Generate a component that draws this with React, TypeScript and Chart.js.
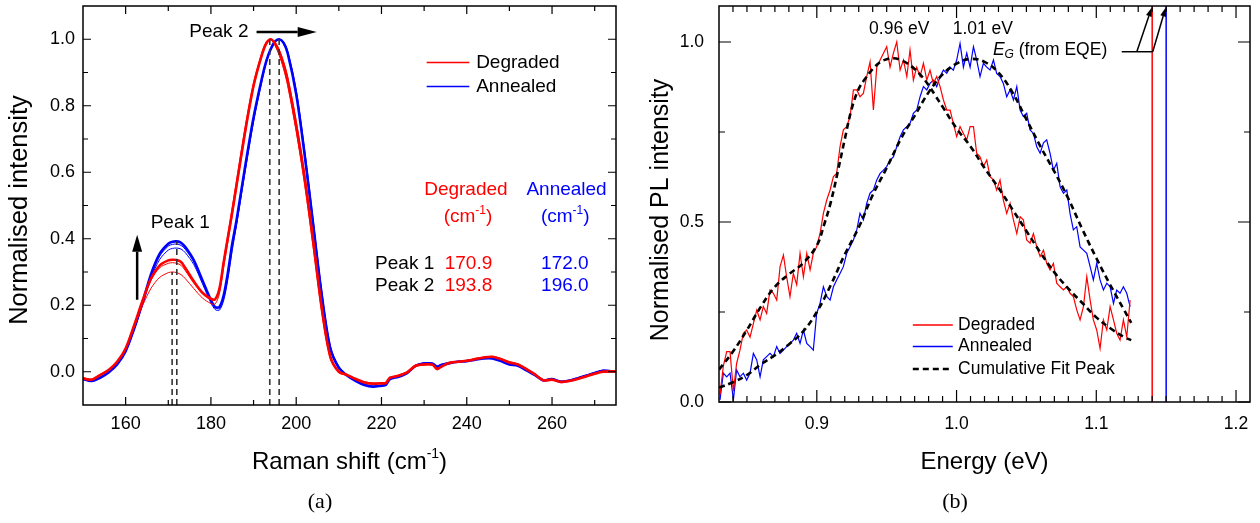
import { useEffect, useRef } from "react";
import { Chart, registerables } from "chart.js";

Chart.register(...registerables);

const SANS = '"Liberation Sans", Arial, Helvetica, sans-serif';
const SERIF = '"Liberation Serif", "DejaVu Serif", "Times New Roman", serif';
const RED = "#ff0000";
const BLUE = "#0000ff";

// ---------------- Panel (a): Raman ----------------
const ramanShift = [150,152,154,156,158,160,162,164,166,168,170,171,172,173,174,176,178,180,181,182,183,184,185,186,188,190,192,193,194,195,196,197,198,200,202,204,206,208,210,212,214,216,218,220,221,222,224,226,228,230,232,233,234,236,238,240,242,244,246,248,250,252,254,256,258,260,262,264,266,268,270,272,275];

const degradedMain = [
  -0.020, -0.024, -0.010, 0.005, 0.030,
  0.070, 0.140, 0.215, 0.282, 0.320,
  0.335, 0.337, 0.336, 0.330, 0.312,
  0.272, 0.238, 0.220, 0.218, 0.250,
  0.330, 0.405, 0.480, 0.560, 0.720,
  0.860, 0.955, 0.988, 1.000, 0.988,
  0.962, 0.925, 0.875, 0.740, 0.580,
  0.390, 0.190, 0.045, 0.000, -0.010,
  -0.022, -0.032, -0.036, -0.035, -0.034,
  -0.018, -0.012, -0.002, 0.018, 0.022,
  0.021, 0.008, 0.015, 0.027, 0.030,
  0.033, 0.038, 0.043, 0.045, 0.038,
  0.028, 0.022, 0.008, -0.008, -0.026,
  -0.024, -0.031, -0.028, -0.022, -0.014,
  -0.006, 0.000, 0.001,
];
const degradedB = [
  -0.018, -0.022, -0.008, 0.007, 0.032,
  0.072, 0.140, 0.212, 0.276, 0.313,
  0.326, 0.328, 0.326, 0.320, 0.304,
  0.266, 0.234, 0.216, 0.216, 0.252,
  0.335, 0.415, 0.495, 0.575, 0.735,
  0.870, 0.962, 0.992, 1.000, 0.982,
  0.952, 0.912, 0.860, 0.722, 0.560,
  0.372, 0.178, 0.040, -0.002, -0.012,
  -0.024, -0.030, -0.034, -0.033, -0.032,
  -0.020, -0.010, 0.000, 0.016, 0.020,
  0.020, 0.010, 0.016, 0.025, 0.031,
  0.034, 0.040, 0.044, 0.046, 0.040,
  0.030, 0.024, 0.010, -0.006, -0.024,
  -0.022, -0.029, -0.027, -0.020, -0.012,
  -0.004, 0.002, 0.003,
];
const degradedC = [
  -0.019, -0.023, -0.009, 0.006, 0.031,
  0.070, 0.135, 0.200, 0.252, 0.284,
  0.298, 0.300, 0.298, 0.292, 0.280,
  0.250, 0.222, 0.205, 0.204, 0.235,
  0.315, 0.392, 0.470, 0.552, 0.712,
  0.855, 0.952, 0.986, 1.000, 0.992,
  0.970, 0.935, 0.888, 0.755, 0.595,
  0.405, 0.200, 0.050, 0.002, -0.009,
  -0.021, -0.031, -0.035, -0.034, -0.033,
  -0.017, -0.011, -0.001, 0.019, 0.023,
  0.022, 0.009, 0.016, 0.028, 0.031,
  0.034, 0.039, 0.044, 0.046, 0.039,
  0.029, 0.023, 0.009, -0.007, -0.025,
  -0.023, -0.030, -0.027, -0.021, -0.013,
  -0.005, 0.001, 0.002,
];
const annealedMain = [
  -0.022, -0.028, -0.018, -0.002, 0.022,
  0.062, 0.130, 0.210, 0.295, 0.355,
  0.385, 0.391, 0.392, 0.388, 0.375,
  0.335, 0.275, 0.215, 0.195, 0.195,
  0.230, 0.300, 0.385, 0.455, 0.615,
  0.765, 0.885, 0.935, 0.970, 0.993,
  1.000, 0.990, 0.958, 0.835, 0.650,
  0.440, 0.230, 0.070, 0.012, -0.012,
  -0.028, -0.040, -0.045, -0.042, -0.040,
  -0.022, -0.015, -0.004, 0.018, 0.025,
  0.024, 0.015, 0.020, 0.026, 0.030,
  0.032, 0.036, 0.040, 0.040, 0.032,
  0.022, 0.018, 0.004, -0.010, -0.026,
  -0.022, -0.030, -0.027, -0.020, -0.012,
  -0.004, 0.003, 0.000,
];
const annealedB = [
  -0.021, -0.027, -0.017, -0.001, 0.023,
  0.063, 0.128, 0.206, 0.290, 0.348,
  0.378, 0.383, 0.384, 0.380, 0.368,
  0.330, 0.272, 0.212, 0.192, 0.190,
  0.222, 0.290, 0.375, 0.445, 0.605,
  0.758, 0.880, 0.932, 0.968, 0.992,
  1.000, 0.992, 0.962, 0.842, 0.658,
  0.448, 0.236, 0.074, 0.014, -0.011,
  -0.027, -0.039, -0.044, -0.041, -0.039,
  -0.021, -0.014, -0.003, 0.019, 0.026,
  0.025, 0.016, 0.021, 0.027, 0.031,
  0.033, 0.037, 0.041, 0.041, 0.033,
  0.023, 0.019, 0.005, -0.009, -0.025,
  -0.021, -0.029, -0.026, -0.019, -0.011,
  -0.003, 0.004, 0.001,
];
const annealedC = [
  -0.023, -0.029, -0.019, -0.003, 0.021,
  0.061, 0.126, 0.202, 0.283, 0.338,
  0.366, 0.371, 0.372, 0.369, 0.358,
  0.322, 0.265, 0.207, 0.187, 0.185,
  0.215, 0.280, 0.365, 0.440, 0.600,
  0.752, 0.876, 0.930, 0.967, 0.991,
  1.000, 0.993, 0.965, 0.848, 0.665,
  0.455, 0.242, 0.078, 0.016, -0.010,
  -0.026, -0.038, -0.043, -0.040, -0.038,
  -0.020, -0.013, -0.002, 0.020, 0.027,
  0.026, 0.017, 0.022, 0.028, 0.032,
  0.034, 0.038, 0.042, 0.042, 0.034,
  0.024, 0.020, 0.006, -0.008, -0.024,
  -0.020, -0.028, -0.025, -0.018, -0.010,
  -0.002, 0.005, 0.002,
];

const ramanXTicks = [160, 180, 200, 220, 240, 260];
const ramanXMinor = [170, 190, 210, 230, 250, 270];
const ramanYTicks = [0, 0.2, 0.4, 0.6, 0.8, 1.0];
const ramanYMinor = [0.1, 0.3, 0.5, 0.7, 0.9];

const peakNames = ["Peak 1", "Peak 2"];
const peakDegraded = [170.9, 193.8];
const peakAnnealed = [172.0, 196.0];
const markerX = [170.9, 172.0, 193.8, 196.0];
const markerTop = [0.30, 0.392, 1.0, 1.0];

// ---------------- Panel (b): PL ----------------
const plEnergy = [
  0.8307, 0.8331, 0.8355, 0.8379, 0.8403, 0.8426, 0.8450, 0.8474, 0.8498, 0.8522,
  0.8546, 0.8570, 0.8594, 0.8617, 0.8641, 0.8665, 0.8689, 0.8713, 0.8737, 0.8761,
  0.8784, 0.8808, 0.8832, 0.8856, 0.8880, 0.8904, 0.8928, 0.8952, 0.8975, 0.8999,
  0.9023, 0.9047, 0.9071, 0.9095, 0.9119, 0.9142, 0.9166, 0.9190, 0.9214, 0.9238,
  0.9262, 0.9286, 0.9309, 0.9333, 0.9357, 0.9381, 0.9405, 0.9429, 0.9453, 0.9477,
  0.9500, 0.9524, 0.9548, 0.9572, 0.9596, 0.9620, 0.9644, 0.9667, 0.9691, 0.9715,
  0.9739, 0.9763, 0.9787, 0.9810, 0.9834, 0.9858, 0.9882, 0.9906, 0.9930, 0.9954,
  0.9977, 1.0001, 1.0025, 1.0049, 1.0073, 1.0097, 1.0121, 1.0144, 1.0168, 1.0192,
  1.0216, 1.0240, 1.0264, 1.0287, 1.0311, 1.0335, 1.0359, 1.0383, 1.0407, 1.0431,
  1.0455, 1.0478, 1.0502, 1.0526, 1.0550, 1.0574, 1.0598, 1.0622, 1.0645, 1.0669,
  1.0693, 1.0717, 1.0741, 1.0765, 1.0789, 1.0812, 1.0836, 1.0860, 1.0884, 1.0908,
  1.0932, 1.0956, 1.0979, 1.1003, 1.1027, 1.1051, 1.1075, 1.1099, 1.1123, 1.1146,
  1.1170, 1.1194, 1.1218, 1.1242,
];
const plDegraded = [
  0.020, 0.100, 0.140, 0.140, 0.030, 0.107, 0.144, 0.190, 0.200, 0.180,
  0.218, 0.255, 0.228, 0.265, 0.246, 0.311, 0.302, 0.283, 0.376, 0.408,
  0.348, 0.293, 0.357, 0.326, 0.413, 0.348, 0.413, 0.367, 0.413, 0.431,
  0.468, 0.524, 0.561, 0.589, 0.626, 0.635, 0.709, 0.756, 0.765, 0.793,
  0.867, 0.867, 0.848, 0.857, 0.904, 0.945, 0.811, 0.930, 0.950, 0.969,
  0.987, 0.930, 0.969, 1.000, 0.922, 0.950, 0.904, 0.978, 0.894, 0.930,
  0.904, 0.941, 0.894, 0.922, 0.885, 0.904, 0.876, 0.839, 0.811, 0.811,
  0.774, 0.737, 0.765, 0.746, 0.728, 0.765, 0.765, 0.691, 0.681, 0.654,
  0.672, 0.626, 0.617, 0.589, 0.617, 0.561, 0.524, 0.552, 0.506, 0.468,
  0.515, 0.506, 0.450, 0.441, 0.468, 0.431, 0.404, 0.422, 0.385, 0.367,
  0.385, 0.330, 0.320, 0.311, 0.320, 0.302, 0.293, 0.256, 0.228, 0.265,
  0.348, 0.283, 0.228, 0.200, 0.149, 0.228, 0.200, 0.265, 0.228, 0.191,
  0.172, 0.228, 0.181, 0.283,
];
const plAnnealed = [
  0.006, 0.080, 0.070, 0.080, 0.006, 0.089, 0.070, 0.080, 0.061, 0.080,
  0.135, 0.117, 0.070, 0.117, 0.126, 0.135, 0.126, 0.154, 0.135, 0.144,
  0.154, 0.163, 0.172, 0.191, 0.163, 0.200, 0.163, 0.154, 0.144, 0.246,
  0.274, 0.320, 0.293, 0.283, 0.320, 0.339, 0.357, 0.376, 0.413, 0.431,
  0.450, 0.478, 0.524, 0.506, 0.552, 0.580, 0.589, 0.617, 0.635, 0.644,
  0.654, 0.672, 0.681, 0.709, 0.737, 0.756, 0.765, 0.774, 0.802, 0.811,
  0.848, 0.876, 0.867, 0.885, 0.894, 0.876, 0.904, 0.922, 0.913, 0.930,
  0.922, 0.950, 0.996, 0.930, 0.969, 0.930, 0.987, 0.950, 0.904, 0.941,
  0.930, 0.922, 0.950, 0.913, 0.904, 0.885, 0.848, 0.867, 0.839, 0.876,
  0.811, 0.793, 0.802, 0.756, 0.746, 0.709, 0.691, 0.720, 0.728, 0.691,
  0.644, 0.663, 0.598, 0.580, 0.589, 0.524, 0.478, 0.487, 0.431, 0.422,
  0.413, 0.376, 0.339, 0.385, 0.339, 0.311, 0.330, 0.320, 0.274, 0.311,
  0.302, 0.320, 0.302, 0.265,
];
const fitEnergyDegraded = [0.83,0.84,0.85,0.86,0.87,0.88,0.89,0.90,0.905,0.91,0.915,0.92,0.925,0.93,0.935,0.94,0.945,0.95,0.955,0.96,0.965,0.97,0.975,0.98,0.985,0.99,1.00,1.01,1.02,1.03,1.04,1.05,1.06,1.07,1.08,1.09,1.10,1.11,1.12,1.125];
const fitDegraded = [0.090,0.140,0.200,0.265,0.320,0.355,0.385,0.435,0.490,0.555,0.640,0.730,0.815,0.870,0.900,0.925,0.943,0.952,0.955,0.950,0.940,0.925,0.905,0.880,0.850,0.820,0.760,0.710,0.650,0.595,0.535,0.475,0.415,0.360,0.315,0.275,0.235,0.205,0.180,0.172];
const fitEnergyAnnealed = [0.83,0.84,0.85,0.86,0.87,0.88,0.89,0.90,0.91,0.92,0.93,0.94,0.95,0.96,0.97,0.98,0.99,1.00,1.01,1.02,1.03,1.04,1.05,1.06,1.07,1.08,1.09,1.10,1.11,1.12,1.125];
const fitAnnealed = [0.040,0.055,0.075,0.105,0.130,0.160,0.195,0.250,0.325,0.410,0.485,0.575,0.650,0.730,0.795,0.860,0.910,0.940,0.953,0.945,0.915,0.860,0.785,0.710,0.640,0.565,0.480,0.400,0.325,0.255,0.220];
const egEnergies = [1.14, 1.15];
const peakLabels = ["0.96 eV", "1.01 eV"];
const peakLabelEnergies = [0.959, 1.0188];

const plXTicks = [0.9, 1.0, 1.1, 1.2];
const plYTicks = [0, 0.5, 1.0];
const plYMinor = [0.25, 0.75];

// ---------------- helpers ----------------
type Part = { t: string; size: number; dy?: number; italic?: boolean };

function setFont(ctx: CanvasRenderingContext2D, size: number, italic = false, family = SANS) {
  ctx.font = `${italic ? "italic " : ""}${size}px ${family}`;
}

function rich(ctx: CanvasRenderingContext2D, parts: Part[], x: number, y: number, align: "left" | "center" | "right", color = "#000") {
  const widths = parts.map((p) => {
    setFont(ctx, p.size, p.italic);
    return ctx.measureText(p.t).width;
  });
  const total = widths.reduce((a, b) => a + b, 0);
  let cx = align === "center" ? x - total / 2 : align === "right" ? x - total : x;
  ctx.fillStyle = color;
  ctx.textAlign = "left";
  ctx.textBaseline = "middle";
  parts.forEach((p, i) => {
    setFont(ctx, p.size, p.italic);
    ctx.fillText(p.t, cx, y + (p.dy || 0));
    cx += widths[i];
  });
}

function label(ctx: CanvasRenderingContext2D, s: string, x: number, y: number, size: number, align: CanvasTextAlign = "left", color = "#000", family = SANS) {
  setFont(ctx, size, false, family);
  ctx.fillStyle = color;
  ctx.textAlign = align;
  ctx.textBaseline = "middle";
  ctx.fillText(s, x, y);
}

function arrow(ctx: CanvasRenderingContext2D, x1: number, y1: number, x2: number, y2: number, w: number, hl: number, hw: number) {
  const a = Math.atan2(y2 - y1, x2 - x1);
  const bx = x2 - hl * Math.cos(a);
  const by = y2 - hl * Math.sin(a);
  ctx.strokeStyle = "#000";
  ctx.fillStyle = "#000";
  ctx.lineWidth = w;
  ctx.beginPath();
  ctx.moveTo(x1, y1);
  ctx.lineTo(bx, by);
  ctx.stroke();
  ctx.beginPath();
  ctx.moveTo(x2, y2);
  ctx.lineTo(bx + (hw / 2) * Math.sin(a), by - (hw / 2) * Math.cos(a));
  ctx.lineTo(bx - (hw / 2) * Math.sin(a), by + (hw / 2) * Math.cos(a));
  ctx.closePath();
  ctx.fill();
}

type FrameSpec = {
  xMajor: number[]; xMinor: number[]; yMajor: number[]; yMinor: number[];
  majorLen: number; minorLen: number;
  draw: (chart: any, ctx: CanvasRenderingContext2D) => void;
};

function framePlugin(id: string, spec: FrameSpec) {
  return {
    id,
    afterDatasetsDraw(chart: any) {
      const { ctx, chartArea: a } = chart;
      const xs = chart.scales.x;
      const ys = chart.scales.y;
      ctx.save();
      ctx.strokeStyle = "#000";
      ctx.lineWidth = 1.2;
      const xt = (vals: number[], len: number) =>
        vals.forEach((v) => {
          const p = xs.getPixelForValue(v);
          ctx.beginPath();
          ctx.moveTo(p, a.bottom);
          ctx.lineTo(p, a.bottom - len);
          ctx.moveTo(p, a.top);
          ctx.lineTo(p, a.top + len);
          ctx.stroke();
        });
      const yt = (vals: number[], len: number) =>
        vals.forEach((v) => {
          const p = ys.getPixelForValue(v);
          ctx.beginPath();
          ctx.moveTo(a.left, p);
          ctx.lineTo(a.left + len, p);
          ctx.moveTo(a.right, p);
          ctx.lineTo(a.right - len, p);
          ctx.stroke();
        });
      xt(spec.xMajor, spec.majorLen);
      xt(spec.xMinor, spec.minorLen);
      yt(spec.yMajor, spec.majorLen);
      yt(spec.yMinor, spec.minorLen);
      ctx.lineWidth = 1.5;
      ctx.strokeRect(a.left, a.top, a.right - a.left, a.bottom - a.top);
      spec.draw(chart, ctx);
      ctx.restore();
    },
  };
}

const pts = (xs: number[], ys: number[]) => xs.map((x, i) => ({ x, y: ys[i] }));

const noPad = (s: any) => {
  s.paddingTop = 0;
  s.paddingBottom = 0;
  s.paddingLeft = 0;
  s.paddingRight = 0;
};

// ---------------- Raman chart ----------------
function drawRaman(chart: any, ctx: CanvasRenderingContext2D) {
  const X = (v: number) => chart.scales.x.getPixelForValue(v);
  const Y = (v: number) => chart.scales.y.getPixelForValue(v);
  const a = chart.chartArea;

  // legend
  const legendRows = [
    { t: "Degraded", c: RED, v: 0.930 },
    { t: "Annealed", c: BLUE, v: 0.858 },
  ];
  legendRows.forEach((r) => {
    ctx.strokeStyle = r.c;
    ctx.lineWidth = 1.5;
    ctx.beginPath();
    ctx.moveTo(X(230.6), Y(r.v));
    ctx.lineTo(X(240.6), Y(r.v));
    ctx.stroke();
    label(ctx, r.t, X(242.2), Y(r.v), 19);
  });

  // Peak 2 annotation
  label(ctx, "Peak 2", X(188.8), Y(1.022), 19, "right");
  arrow(ctx, X(190.7), Y(1.022), X(204.8), Y(1.022), 2.5, 19, 10);

  // Peak 1 annotation
  label(ctx, "Peak 1", X(172.8), Y(0.447), 19, "center");
  arrow(ctx, X(162.7), Y(0.2165), X(162.7), Y(0.412), 2.5, 17, 10);

  // table
  label(ctx, "Degraded", X(239.8), Y(0.547), 19, "center", RED);
  label(ctx, "Annealed", X(263.4), Y(0.547), 19, "center", BLUE);
  const cm = (c: string, x: number) =>
    rich(ctx, [{ t: "(cm", size: 19 }, { t: "-1", size: 12, dy: -6 }, { t: ")", size: 19 }], x, Y(0.467), "center", c);
  cm(RED, X(240.3));
  cm(BLUE, X(263.1));
  const rowsV = [0.324, 0.259];
  peakNames.forEach((n, i) => {
    label(ctx, n, X(218.5), Y(rowsV[i]), 19, "left");
    label(ctx, peakDegraded[i].toFixed(1), X(240.4), Y(rowsV[i]), 19, "center", RED);
    label(ctx, peakAnnealed[i].toFixed(1), X(263.0), Y(rowsV[i]), 19, "center", BLUE);
  });

  // axis titles
  rich(ctx, [{ t: "Raman shift (cm", size: 24 }, { t: "-1", size: 14, dy: -8 }, { t: ")", size: 24 }], (a.left + a.right) / 2, 462, "center");
  ctx.save();
  ctx.translate(20, 210);
  ctx.rotate(-Math.PI / 2);
  label(ctx, "Normalised intensity", 0, 0, 25.5, "center");
  ctx.restore();
  label(ctx, "(a)", 320, 502, 22, "center", "#000", SERIF);
}

function ramanConfig(): any {
  const thin = (data: number[], color: string, order: number) => ({
    data: pts(ramanShift, data), borderColor: color, borderWidth: 1, pointRadius: 0, tension: 0.3, order,
  });
  const markers = markerX.map((x, i) => ({
    data: [{ x, y: -0.1 }, { x, y: markerTop[i] }],
    borderColor: "#333", borderWidth: 1.6, borderDash: [6, 4], pointRadius: 0, order: 0,
  }));
  return {
    type: "line",
    data: {
      datasets: [
        ...markers,
        { data: pts(ramanShift, degradedMain), borderColor: RED, borderWidth: 2.6, pointRadius: 0, tension: 0.3, order: 1 },
        thin(degradedB, RED, 2),
        thin(degradedC, RED, 2),
        { data: pts(ramanShift, annealedMain), borderColor: BLUE, borderWidth: 2.6, pointRadius: 0, tension: 0.3, order: 4 },
        thin(annealedB, BLUE, 5),
        thin(annealedC, BLUE, 5),
      ],
    },
    options: {
      responsive: false,
      animation: false,
      devicePixelRatio: 1,
      layout: { padding: { left: 0, right: 24, top: 6, bottom: 0 } },
      plugins: { legend: { display: false }, tooltip: { enabled: false } },
      scales: {
        x: {
          type: "linear", min: 150, max: 275,
          grid: { display: false, drawTicks: false }, border: { display: false },
          ticks: { font: { family: SANS, size: 18 }, color: "#000", padding: 8, maxRotation: 0, autoSkip: false, callback: (v: any) => String(v) },
          afterBuildTicks: (s: any) => { s.ticks = ramanXTicks.map((value) => ({ value })); },
          afterFit: (s: any) => { s.height = 118; noPad(s); },
        },
        y: {
          type: "linear", min: -0.1, max: 1.1,
          grid: { display: false, drawTicks: false }, border: { display: false },
          ticks: { font: { family: SANS, size: 18 }, color: "#000", padding: 8, autoSkip: false, callback: (v: any) => Number(v).toFixed(1) },
          afterBuildTicks: (s: any) => { s.ticks = ramanYTicks.map((value) => ({ value })); },
          afterFit: (s: any) => { s.width = 83; noPad(s); },
        },
      },
    },
    plugins: [
      framePlugin("ramanFrame", {
        xMajor: ramanXTicks, xMinor: ramanXMinor, yMajor: ramanYTicks, yMinor: ramanYMinor,
        majorLen: 8, minorLen: 5, draw: drawRaman,
      }),
    ],
  };
}

// ---------------- PL chart ----------------
function drawPL(chart: any, ctx: CanvasRenderingContext2D) {
  const X = (v: number) => chart.scales.x.getPixelForValue(v);
  const Y = (v: number) => chart.scales.y.getPixelForValue(v);
  const a = chart.chartArea;

  peakLabels.forEach((t, i) => label(ctx, t, X(peakLabelEnergies[i]), Y(1.036), 17.5, "center"));

  rich(ctx, [
    { t: "E", size: 17.5, italic: true },
    { t: "G", size: 12, italic: true, dy: 5 },
    { t: " (from EQE)", size: 17.5 },
  ], X(1.026), Y(0.978), "left");

  ctx.strokeStyle = "#000";
  ctx.lineWidth = 1.5;
  ctx.beginPath();
  ctx.moveTo(X(1.1182), Y(0.973));
  ctx.lineTo(X(1.1404), Y(0.973));
  ctx.stroke();
  arrow(ctx, X(1.129), Y(0.973), X(1.1397), Y(1.096), 1.5, 9, 6);
  arrow(ctx, X(1.1404), Y(0.973), X(1.1497), Y(1.096), 1.5, 9, 6);

  // legend
  const rows = [
    { t: "Degraded", c: RED, v: 0.214, dash: [] as number[], w: 1.5 },
    { t: "Annealed", c: BLUE, v: 0.154, dash: [] as number[], w: 1.5 },
    { t: "Cumulative Fit Peak", c: "#000", v: 0.092, dash: [6, 4], w: 2.5 },
  ];
  rows.forEach((r) => {
    ctx.strokeStyle = r.c;
    ctx.lineWidth = r.w;
    ctx.setLineDash(r.dash);
    ctx.beginPath();
    ctx.moveTo(X(0.9687), Y(r.v));
    ctx.lineTo(X(0.9973), Y(r.v));
    ctx.stroke();
    ctx.setLineDash([]);
    label(ctx, r.t, X(1.0011), Y(r.v), 17.5);
  });

  label(ctx, "Energy (eV)", (a.left + a.right) / 2, 462, 24, "center");
  ctx.save();
  ctx.translate(21, 210);
  ctx.rotate(-Math.PI / 2);
  label(ctx, "Normalised PL intensity", 0, 0, 25, "center");
  ctx.restore();
  label(ctx, "(b)", 315, 502, 22, "center", "#000", SERIF);
}

function plConfig(): any {
  const xMinor: number[] = [];
  for (let i = 84; i <= 120; i++) if (i % 10 !== 0) xMinor.push(i / 100);
  return {
    type: "line",
    data: {
      datasets: [
        { data: pts(fitEnergyDegraded, fitDegraded), borderColor: "#000", borderWidth: 2.6, borderDash: [6, 4], pointRadius: 0, tension: 0.4, order: 0 },
        { data: pts(fitEnergyAnnealed, fitAnnealed), borderColor: "#000", borderWidth: 2.6, borderDash: [6, 4], pointRadius: 0, tension: 0.4, order: 0 },
        { data: pts(plEnergy, plDegraded), borderColor: RED, borderWidth: 1.2, pointRadius: 0, tension: 0, order: 1 },
        { data: pts(plEnergy, plAnnealed), borderColor: BLUE, borderWidth: 1.2, pointRadius: 0, tension: 0, order: 2 },
        { data: [{ x: egEnergies[0], y: 0 }, { x: egEnergies[0], y: 1.1 }], borderColor: RED, borderWidth: 1.5, pointRadius: 0, order: 3 },
        { data: [{ x: egEnergies[1], y: 0 }, { x: egEnergies[1], y: 1.1 }], borderColor: BLUE, borderWidth: 1.5, pointRadius: 0, order: 3 },
      ],
    },
    options: {
      responsive: false,
      animation: false,
      devicePixelRatio: 1,
      layout: { padding: { left: 0, right: 10, top: 6, bottom: 0 } },
      plugins: { legend: { display: false }, tooltip: { enabled: false } },
      scales: {
        x: {
          type: "linear", min: 0.83, max: 1.21,
          grid: { display: false, drawTicks: false }, border: { display: false },
          ticks: { font: { family: SANS, size: 17.5 }, color: "#000", padding: 12, maxRotation: 0, autoSkip: false, callback: (v: any) => Number(v).toFixed(1) },
          afterBuildTicks: (s: any) => { s.ticks = plXTicks.map((value) => ({ value })); },
          afterFit: (s: any) => { s.height = 121; noPad(s); },
        },
        y: {
          type: "linear", min: 0, max: 1.1,
          grid: { display: false, drawTicks: false }, border: { display: false },
          ticks: { font: { family: SANS, size: 17.5 }, color: "#000", padding: 15, autoSkip: false, callback: (v: any) => Number(v).toFixed(1) },
          afterBuildTicks: (s: any) => { s.ticks = plYTicks.map((value) => ({ value })); },
          afterFit: (s: any) => { s.width = 79; noPad(s); },
        },
      },
    },
    plugins: [
      framePlugin("plFrame", {
        xMajor: plXTicks, xMinor, yMajor: plYTicks, yMinor: plYMinor,
        majorLen: 12, minorLen: 6, draw: drawPL,
      }),
    ],
  };
}

export default function App() {
  const leftRef = useRef<HTMLCanvasElement>(null);
  const rightRef = useRef<HTMLCanvasElement>(null);
  useEffect(() => {
    const c1 = new Chart(leftRef.current as HTMLCanvasElement, ramanConfig());
    const c2 = new Chart(rightRef.current as HTMLCanvasElement, plConfig());
    return () => {
      c1.destroy();
      c2.destroy();
    };
  }, []);
  return (
    <div style={{ position: "fixed", left: 0, top: 0, width: 1260, height: 523, background: "#fff" }}>
      <canvas ref={leftRef} width={640} height={523} style={{ position: "absolute", left: 0, top: 0, width: 640, height: 523 }} />
      <canvas ref={rightRef} width={620} height={523} style={{ position: "absolute", left: 640, top: 0, width: 620, height: 523 }} />
    </div>
  );
}
